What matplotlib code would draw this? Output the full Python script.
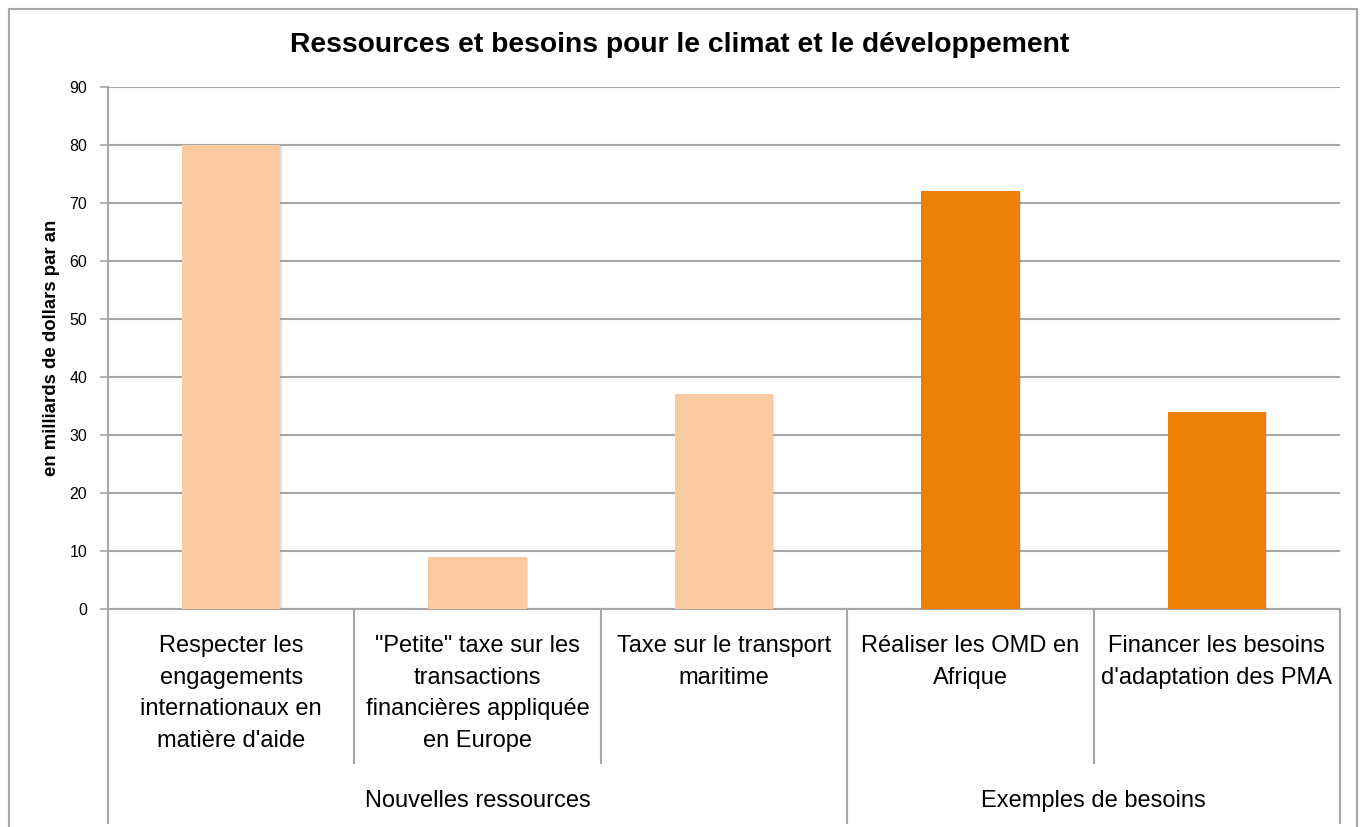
import matplotlib
matplotlib.use("Agg")
import matplotlib.pyplot as plt
from matplotlib.patches import Rectangle
from matplotlib.lines import Line2D
from matplotlib import patheffects as pe

categories = [
    "Respecter les\nengagements\ninternationaux en\nmatière d'aide",
    "\"Petite\" taxe sur les\ntransactions\nfinancières appliquée\nen Europe",
    "Taxe sur le transport\nmaritime",
    "Réaliser les OMD en\nAfrique",
    "Financer les besoins\nd'adaptation des PMA",
]
values = [80, 9, 37, 72, 34]
groups = ["Nouvelles ressources", "Exemples de besoins"]
group_sizes = [3, 2]
yticks = [0, 10, 20, 30, 40, 50, 60, 70, 80, 90]
title = "Ressources et besoins pour le climat et le développement"
ylabel = "en milliards de dollars par an"

light = "#FACBA1"
dark = "#EC8006"
bar_colors = [light, light, light, dark, dark]

plt.rcParams["font.family"] = ["Liberation Sans", "DejaVu Sans"]

W, H = 1364, 827
fig = plt.figure(figsize=(W / 100, H / 100), dpi=100)
L, R, T, B = 108, 1340, 87, 609
ax = fig.add_axes([L / W, 1 - B / H, (R - L) / W, (B - T) / H])

x = list(range(len(values)))
bars = ax.bar(x, values, width=0.4, color=bar_colors, zorder=3)
for b in bars:
    b.set_path_effects([pe.SimplePatchShadow(offset=(0.8, -0.8), shadow_rgbFace="#888888", alpha=0.25),
                        pe.Normal()])
ax.set_xlim(-0.5, len(values) - 0.5)
ax.set_ylim(0, 90)
ax.set_yticks(yticks)
ax.set_yticklabels([str(v) for v in yticks], fontsize=11.5)
ax.yaxis.grid(True, color="#A6A6A6", linewidth=1.5, zorder=0)
ax.set_axisbelow(True)
ax.tick_params(axis="y", length=6, width=1.2, color="#A6A6A6", pad=9)
ax.set_xticks([])
for s in ["top", "right"]:
    ax.spines[s].set_visible(False)
ax.spines["left"].set_color("#A6A6A6")
ax.spines["left"].set_linewidth(1.5)
ax.spines["bottom"].set_color("#A6A6A6")
ax.spines["bottom"].set_linewidth(1.5)

ph = B - T
trans = ax.get_xaxis_transform()
# category labels
for i, c in enumerate(categories):
    ax.text(i, -(635 - B) / ph, c, transform=trans, ha="center", va="top",
            fontsize=17, linespacing=1.57, clip_on=False)

# separators
bounds = [-0.5]
acc = 0
for g in group_sizes:
    acc += g
    bounds.append(acc - 0.5)
for k in range(len(values) + 1):
    xb = k - 0.5
    long = xb in bounds
    y_end = -(823 - B) / ph if long else -(763 - B) / ph
    ax.add_line(Line2D([xb, xb], [0, y_end], transform=trans, color="#A6A6A6",
                       linewidth=1.5, clip_on=False))

# group labels
start = 0
for g, n in zip(groups, group_sizes):
    center = start + (n - 1) / 2
    ax.text(center, -(801 - B) / ph, g, transform=trans, ha="center", va="center",
            fontsize=17, clip_on=False)
    start += n

ax.set_ylabel(ylabel, fontsize=13.4, fontweight="bold")
ax.yaxis.set_label_coords(-(L - 60) / (R - L), 0.5)

fig.text(680 / W, 1 - 45 / H, title, ha="center", va="center", fontsize=20.3, fontweight="bold")

fig.add_artist(Rectangle((9 / W, -0.1), (1357 - 9) / W, 1.1 - 9 / H, transform=fig.transFigure,
                         fill=False, edgecolor="#A6A6A6", linewidth=1.5))

fig.savefig("out.png", dpi=100)
